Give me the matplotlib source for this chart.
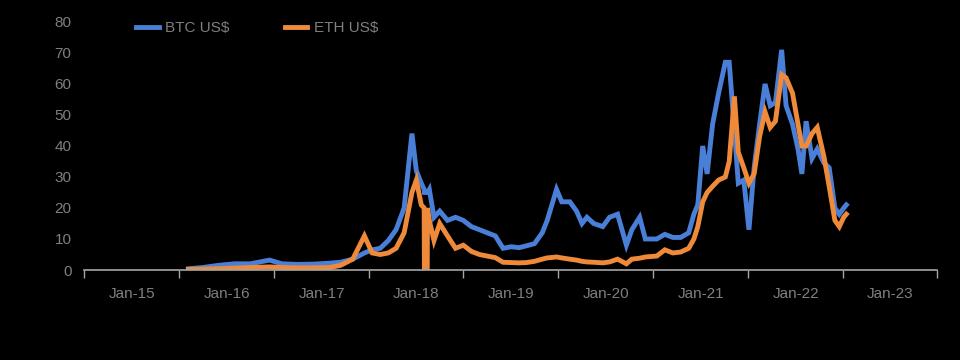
import matplotlib
matplotlib.use("Agg")
import matplotlib.pyplot as plt
import matplotlib.dates as mdates
import pandas as pd

# ── Data ──────────────────────────────────────────────────────────────────────

dates = [
    "2015-08-07", "2015-10-01", "2015-12-01", "2016-02-01", "2016-04-01",
    "2016-06-15", "2016-08-01", "2016-10-01", "2016-12-01", "2017-02-01",
    "2017-03-15", "2017-05-01", "2017-06-15", "2017-07-15", "2017-08-15",
    "2017-09-15", "2017-10-15", "2017-11-15", "2017-12-15", "2018-01-01",
    "2018-01-20", "2018-01-31", "2018-02-01", "2018-02-12", "2018-02-13",
    "2018-02-20", "2018-03-10", "2018-04-01", "2018-05-01", "2018-06-01",
    "2018-07-01", "2018-08-01", "2018-09-01", "2018-10-01", "2018-11-01",
    "2018-12-01", "2019-01-01", "2019-02-01", "2019-03-01", "2019-04-01",
    "2019-05-01", "2019-05-20", "2019-06-25", "2019-07-15", "2019-08-15",
    "2019-09-10", "2019-10-01", "2019-10-20", "2019-11-15", "2019-12-20",
    "2020-01-15", "2020-02-15", "2020-03-20", "2020-04-10", "2020-05-10",
    "2020-06-01", "2020-07-15", "2020-08-15", "2020-09-15", "2020-10-15",
    "2020-11-15", "2020-12-05", "2020-12-20", "2021-01-08", "2021-01-25",
    "2021-02-15", "2021-03-10", "2021-04-05", "2021-04-20", "2021-05-10",
    "2021-05-25", "2021-06-15", "2021-07-05", "2021-07-25", "2021-08-15",
    "2021-09-05", "2021-09-25", "2021-10-15", "2021-11-08", "2021-11-25",
    "2021-12-20", "2022-01-10", "2022-01-25", "2022-02-10", "2022-03-05",
    "2022-03-25", "2022-04-20", "2022-05-10", "2022-06-01", "2022-06-18",
    "2022-07-05", "2022-07-15",
]

btc = [
    0.4, 0.8, 1.5, 2.0, 2.0,
    3.2, 2.0, 1.8, 1.9, 2.2,
    2.5, 3.5, 5.5, 6.5, 7.0,
    9.5, 13, 20, 44, 32,
    28, 26, 25, 25, 25,
    26, 17, 19, 16, 17,
    16, 14, 13, 12, 11,
    7, 7.5, 7.2, 7.8, 8.5,
    12, 16, 26, 22, 22,
    19, 15, 17, 15, 14,
    17, 18, 8, 13, 17,
    10, 10, 11.5, 10.5, 10.5,
    12, 18, 21, 40, 31,
    47, 57, 67, 67, 45,
    28, 29, 13, 33, 47,
    60, 53, 54, 71, 53,
    47, 39, 31, 48, 36,
    39, 34.5, 33, 20, 18,
    20, 21,
]

eth = [
    0.2, 0.3, 0.4, 0.6, 0.8,
    1.0, 0.8, 0.7, 0.7, 0.8,
    1.5, 3.5, 11, 5.5, 5.0,
    5.5, 7.0, 12, 25, 29,
    21, 20, 0, 0, 20,
    16, 9.5, 15, 11, 7,
    8, 6, 5, 4.5, 4,
    2.5, 2.4, 2.3, 2.4, 2.8,
    3.5, 3.9, 4.2, 3.9, 3.5,
    3.2, 2.8, 2.6, 2.5, 2.3,
    2.6, 3.5, 2.0, 3.5, 3.8,
    4.2, 4.5, 6.5, 5.5, 5.8,
    7, 10, 14, 22, 25,
    27, 29, 30, 35, 56,
    38, 33, 28, 31, 43,
    51, 46, 48, 63, 62,
    57, 47, 40, 40, 44,
    46, 36.5, 27, 16, 14,
    17, 18,
]

labels = ["BTC US$", "ETH US$"]

# ── Style ─────────────────────────────────────────────────────────────────────

BG = "#000000"
TXT = "#7f7f7f"
AXIS = "#a6a6a6"
BLUE = "#4a7fd8"
ORANGE = "#ef8a3a"

plt.rcParams["font.family"] = ["Liberation Sans Narrow", "Liberation Sans", "DejaVu Sans"]

fig = plt.figure(figsize=(9.6, 3.6), dpi=100)
fig.patch.set_facecolor(BG)
ax = fig.add_axes([0.0875, 0.25, 0.889, 0.689])
ax.set_facecolor(BG)

x = pd.to_datetime(dates)
ax.plot(x, btc, color=BLUE, lw=3.5, label=labels[0], solid_joinstyle="miter")
ax.plot(x, eth, color=ORANGE, lw=3.5, label=labels[1], solid_joinstyle="miter")

# ── Axes ──────────────────────────────────────────────────────────────────────

ax.set_ylim(0, 80)
ax.set_yticks(range(0, 81, 10))
ax.set_xlim(pd.Timestamp("2014-07-01"), pd.Timestamp("2023-07-01"))

# tick marks at mid-year, labels at January (between the marks)
ax.set_xticks(pd.to_datetime([f"{y}-07-01" for y in range(2014, 2024)]))
ax.set_xticklabels([])
ax.set_xticks(pd.to_datetime([f"{y}-01-01" for y in range(2015, 2024)]), minor=True)
ax.xaxis.set_minor_formatter(mdates.DateFormatter("Jan-%y"))

ax.tick_params(axis="x", which="major", length=6, width=1, color=AXIS, direction="out")
ax.tick_params(axis="x", which="minor", length=0, pad=12, labelsize=11, labelcolor=TXT)
ax.tick_params(axis="y", length=0, pad=9, labelsize=11, labelcolor=TXT)

for side in ("left", "right", "top"):
    ax.spines[side].set_visible(False)
ax.spines["bottom"].set_color(AXIS)
ax.spines["bottom"].set_linewidth(1.2)

leg = ax.legend(ncol=2, loc="center left", bbox_to_anchor=(0.045, 0.975),
                frameon=False, fontsize=11, handlelength=1.5,
                handletextpad=0.4, columnspacing=3.6)
for t in leg.get_texts():
    t.set_color(TXT)

fig.savefig("out.png", dpi=100, facecolor=BG)
